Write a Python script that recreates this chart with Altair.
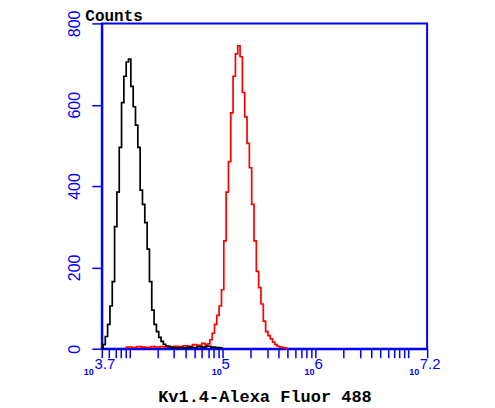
import altair as alt
import pandas as pd

# ---- data (log10 fluorescence, counts) ----
black_log = [3.700, 3.725, 3.750, 3.775, 3.800, 3.825, 3.850, 3.875, 3.900, 3.925,
             3.950, 3.975, 4.000, 4.025, 4.050, 4.075, 4.100, 4.125, 4.150, 4.175,
             4.200, 4.225, 4.250, 4.275, 4.300, 4.325, 4.350, 4.375, 4.400, 4.425,
             4.450, 4.500, 4.550, 4.600, 4.650, 4.700, 4.750, 4.800, 4.850, 4.900,
             4.950, 5.000]
black_counts = [0, 10, 30, 60, 105, 165, 300, 385, 495, 605,
                670, 705, 712, 645, 595, 550, 495, 390, 355, 310,
                245, 165, 95, 60, 42, 28, 18, 11, 7, 5,
                3, 2, 3, 2, 4, 3, 5, 4, 6, 4,
                3, 2]

red_log = [3.950, 4.000, 4.050, 4.100, 4.150, 4.200, 4.250, 4.300, 4.350, 4.400,
           4.450, 4.500, 4.550, 4.600, 4.650, 4.700, 4.750, 4.800, 4.825, 4.850,
           4.875, 4.900, 4.925, 4.950, 4.975, 5.000, 5.025, 5.050, 5.075, 5.100,
           5.125, 5.150, 5.175, 5.200, 5.225, 5.250, 5.275, 5.300, 5.325, 5.350,
           5.375, 5.400, 5.425, 5.450, 5.475, 5.500, 5.525, 5.550, 5.575, 5.600,
           5.625, 5.650, 5.675, 5.700]
red_counts = [3, 4, 3, 5, 4, 3, 5, 4, 5, 4,
              5, 6, 5, 7, 6, 10, 8, 13, 9, 12,
              22, 38, 60, 82, 105, 145, 265, 385, 460, 580,
              670, 725, 745, 718, 630, 570, 505, 445, 355, 265,
              190, 150, 110, 68, 42, 32, 24, 16, 10, 6,
              4, 3, 2, 0]

y_ticks = [0, 200, 400, 600, 800]
x_ticks = [10 ** 3.7, 6000, 7000, 8000, 9000,
           10000, 20000, 30000, 40000, 50000, 60000, 70000, 80000, 90000,
           100000, 200000, 300000, 400000, 500000, 600000, 700000, 800000, 900000,
           1000000, 2000000, 3000000, 4000000, 5000000, 6000000, 7000000, 8000000, 9000000,
           10000000, 10 ** 7.2]
x_label_exps = ["3.7", "5", "6", "7.2"]
x_title = "Kv1.4-Alexa Fluor 488"
y_title = "Counts"

BLUE = "#0000ff"

hist = pd.concat([
    pd.DataFrame({"intensity": [10 ** v for v in red_log], "count": red_counts, "series": "stained"}),
    pd.DataFrame({"intensity": [10 ** v for v in black_log], "count": black_counts, "series": "control"}),
])
labels = pd.DataFrame({"exp": x_label_exps, "pos": [10 ** float(e) for e in x_label_exps]})
labels["single"] = [1 if len(e) == 1 else 0 for e in x_label_exps]

xscale = alt.Scale(type="log", domain=[10 ** 3.7, 10 ** 7.2], nice=False)
yscale = alt.Scale(domain=[0, 800], nice=False)

xaxis = alt.Axis(values=x_ticks, labels=False, grid=False, tickSize=9, tickWidth=1.5,
                 tickColor=BLUE, domainColor=BLUE, domainWidth=2,
                 title=x_title, titleFont="Liberation Mono", titleFontSize=17,
                 titleFontWeight="bold", titleColor="black", titleY=48,
                 titleBaseline="middle")
yaxis = alt.Axis(values=y_ticks, grid=False, tickSize=10, tickWidth=1.5, tickColor=BLUE,
                 domainColor=BLUE, domainWidth=2, labelColor=BLUE,
                 labelFont="Liberation Sans", labelFontSize=16, labelAngle=270,
                 labelAlign="center", labelBaseline="bottom", labelPadding=9,
                 title=y_title, titleAngle=0, titleAlign="left", titleBaseline="top",
                 titleX=-17, titleY=-16, titleFont="Liberation Mono", titleFontSize=16,
                 titleFontWeight="bold", titleColor="black")

base = alt.Chart(hist)
red = base.transform_filter(alt.datum.series == "stained").mark_line(
    color="#ff0000", strokeWidth=1.7, interpolate="step").encode(
    x=alt.X("intensity:Q", scale=xscale, axis=xaxis),
    y=alt.Y("count:Q", scale=yscale, axis=yaxis),
)
black = base.transform_filter(alt.datum.series == "control").mark_line(
    color="#000000", strokeWidth=1.7, interpolate="step").encode(
    x=alt.X("intensity:Q", scale=xscale),
    y=alt.Y("count:Q", scale=yscale),
)

lab = alt.Chart(labels)
exp_text = lab.mark_text(align="center", baseline="middle", dy=15, dx=3,
                         fontSize=15, font="Liberation Sans", color=BLUE).encode(
    x=alt.X("pos:Q", scale=xscale), y=alt.datum(0), text="exp:N")
ten_single = lab.transform_filter("datum.single == 1").mark_text(
    align="right", baseline="middle", dy=23, dx=-1, fontSize=9, fontWeight="bold",
    font="Liberation Sans", color=BLUE).encode(
    x=alt.X("pos:Q", scale=xscale), y=alt.datum(0), text=alt.value("10"))
ten_multi = lab.transform_filter("datum.single == 0").mark_text(
    align="right", baseline="middle", dy=23, dx=-8, fontSize=9, fontWeight="bold",
    font="Liberation Sans", color=BLUE).encode(
    x=alt.X("pos:Q", scale=xscale), y=alt.datum(0), text=alt.value("10"))

chart = alt.layer(red, black, exp_text, ten_single, ten_multi).properties(
    width=326, height=326,
    autosize=alt.AutoSizeParams(type="none"),
    padding={"left": 94, "top": 15, "right": 60, "bottom": 60},
    background="white",
).configure_view(stroke=BLUE, strokeWidth=2)

chart.save("out.html", embed_options={"renderer": "svg", "actions": False})
